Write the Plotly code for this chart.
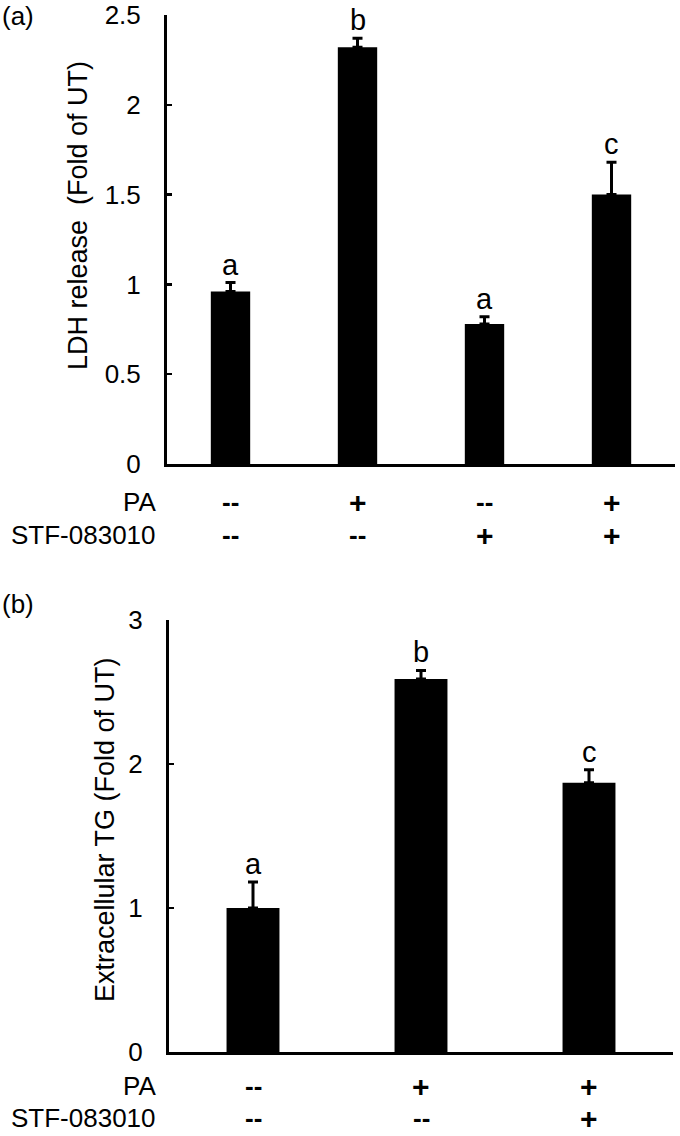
import plotly.graph_objects as go

# ---- data ----
cats_a = ["G1", "G2", "G3", "G4"]
ldh_values = [0.96, 2.32, 0.78, 1.50]
ldh_errors = [0.05, 0.05, 0.04, 0.18]
ldh_letters = ["a", "b", "a", "c"]
pa_a = ["--", "+", "--", "+"]
stf_a = ["--", "--", "+", "+"]

cats_b = ["G1", "G2", "G3"]
tg_values = [1.00, 2.59, 1.87]
tg_errors = [0.18, 0.06, 0.09]
tg_letters = ["a", "b", "c"]
pa_b = ["--", "+", "+"]
stf_b = ["--", "--", "+"]

yticks_a = [0, 0.5, 1, 1.5, 2, 2.5]
yticks_b = [0, 1, 2, 3]

W, H = 680, 1136
FONT = "Liberation Sans, Arial, sans-serif"

def py(pix):
    return 1 - pix / H

fig = go.Figure()
fig.add_trace(go.Bar(
    x=cats_a, y=ldh_values, width=0.31, marker=dict(color="black", line=dict(width=0)),
    error_y=dict(type="data", array=ldh_errors, arrayminus=[0] * len(ldh_errors), symmetric=False,
                 color="black", thickness=3, width=5),
    xaxis="x", yaxis="y", showlegend=False, hoverinfo="skip"))
fig.add_trace(go.Bar(
    x=cats_b, y=tg_values, width=0.315, marker=dict(color="black", line=dict(width=0)),
    error_y=dict(type="data", array=tg_errors, arrayminus=[0] * len(tg_errors), symmetric=False,
                 color="black", thickness=3, width=5),
    xaxis="x2", yaxis="y2", showlegend=False, hoverinfo="skip"))

axis_common = dict(showline=True, linecolor="black", linewidth=3, showgrid=False, zeroline=False,
                   automargin=False)
yaxis_common = dict(axis_common, ticks="inside", ticklen=5, tickwidth=2.5, tickcolor="black",
                    tickfont=dict(family=FONT, size=26, color="black"), ticklabelstandoff=18)

annotations = []
# panel letters
annotations.append(dict(text="(a)", x=0, y=py(16), xref="paper", yref="paper", xanchor="left",
                        yanchor="middle", showarrow=False, font=dict(family=FONT, size=26, color="black")))
annotations.append(dict(text="(b)", x=0, y=py(604), xref="paper", yref="paper", xanchor="left",
                        yanchor="middle", showarrow=False, font=dict(family=FONT, size=26, color="black")))
# y titles
annotations.append(dict(text="LDH release\u00a0 (Fold of UT)", x=78 / W, y=py(216), xref="paper", yref="paper",
                        textangle=-90, xanchor="center", yanchor="middle", showarrow=False,
                        font=dict(family=FONT, size=27, color="black")))
annotations.append(dict(text="Extracellular TG (Fold of UT)", x=105 / W, y=py(830), xref="paper", yref="paper",
                        textangle=-90, xanchor="center", yanchor="middle", showarrow=False,
                        font=dict(family=FONT, size=27, color="black")))

# significance letters
for c, v, e, t in zip(cats_a, ldh_values, ldh_errors, ldh_letters):
    annotations.append(dict(text=t, x=c, y=v + e, xref="x", yref="y", yanchor="bottom", showarrow=False,
                            font=dict(family=FONT, size=29, color="black")))
for c, v, e, t in zip(cats_b, tg_values, tg_errors, tg_letters):
    annotations.append(dict(text=t, x=c, y=v + e, xref="x2", yref="y2", yanchor="bottom", showarrow=False,
                            font=dict(family=FONT, size=29, color="black")))

# treatment rows
def rows(cats, pa, stf, xref, y_pa, y_stf):
    annotations.append(dict(text="PA", x=158 / W, y=py(y_pa), xref="paper", yref="paper", xanchor="right",
                            yanchor="middle", showarrow=False, font=dict(family=FONT, size=26, color="black")))
    annotations.append(dict(text="STF-083010", x=158 / W, y=py(y_stf), xref="paper", yref="paper",
                            xanchor="right", yanchor="middle", showarrow=False,
                            font=dict(family=FONT, size=26, color="black")))
    for c, p, s in zip(cats, pa, stf):
        for sym, yy in ((p, y_pa), (s, y_stf)):
            annotations.append(dict(text="<b>%s</b>" % sym, x=c, y=py(yy), xref=xref, yref="paper",
                                    yanchor="middle", showarrow=False,
                                    font=dict(family=FONT, size=26 if sym == "--" else 30, color="black")))

rows(cats_a, pa_a, stf_a, "x", 502, 535)
rows(cats_b, pa_b, stf_b, "x2", 1086, 1118)

fig.update_layout(
    template="none",
    width=W, height=H, margin=dict(l=0, r=0, t=0, b=0, autoexpand=False),
    paper_bgcolor="white", plot_bgcolor="white",
    xaxis=dict(axis_common, domain=[167 / W, 675 / W], range=[-0.5, 3.5], showticklabels=False, ticks="",
               anchor="y"),
    yaxis=dict(yaxis_common, domain=[py(464), py(15)], range=[0, 2.5], tickvals=yticks_a, anchor="x"),
    xaxis2=dict(axis_common, domain=[169 / W, 673 / W], range=[-0.5, 2.5], showticklabels=False, ticks="",
                anchor="y2"),
    yaxis2=dict(yaxis_common, domain=[py(1052), py(620)], range=[0, 3], tickvals=yticks_b, anchor="x2"),
    annotations=annotations,
)

fig.write_html("out.html",
               config={"displayModeBar": False, "staticPlot": True},
               post_script="document.body.style.margin='0';document.body.style.padding='0';"
                           "document.body.style.overflow='hidden';")
